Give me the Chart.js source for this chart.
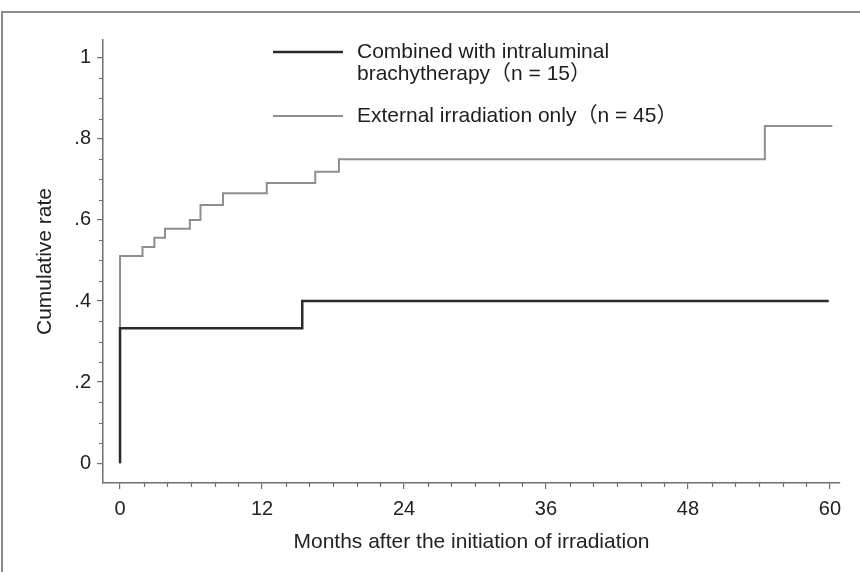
<!DOCTYPE html>
<html>
<head>
<meta charset="utf-8">
<script src="https://cdn.jsdelivr.net/npm/chart.js@4.4.1/dist/chart.umd.min.js"></script>
<style>
  html, body { margin: 0; padding: 0; background: #fff; }
  #wrap { position: relative; width: 860px; height: 572px; }
  #frame {
    position: absolute; left: 1px; top: 11px; right: 0; bottom: 0;
    border-top: 2px solid #8c8c8c; border-left: 2px solid #8c8c8c;
    pointer-events: none;
  }
</style>
</head>
<body>
<div id="wrap">
  <canvas id="chart" width="860" height="572"></canvas>
  <div id="frame"></div>
</div>
<script>
// Kaplan-Meier style cumulative rates
const combinedMonths = [0, 0, 15.4, 59.9];
const combinedRate   = [0, 0.333, 0.400, 0.400];

const externalMonths = [0, 0, 1.9, 2.9, 3.8, 5.9, 6.8, 8.7, 12.4, 16.5, 18.5, 54.5, 60.2];
const externalRate   = [0, 0.511, 0.533, 0.556, 0.578, 0.600, 0.637, 0.666, 0.691, 0.719, 0.750, 0.832, 0.832];

const seriesLabels = [
  ['Combined with intraluminal', 'brachytherapy（n = 15）'],
  ['External irradiation only（n = 45）']
];

const xTicks = [0, 12, 24, 36, 48, 60];
const xMinorTicks = [2, 4, 6, 8, 10, 14, 16, 18, 20, 22, 26, 28, 30, 32, 34, 38, 40, 42, 44, 46, 50, 52, 54, 56, 58];
const yTicks = [0, 0.2, 0.4, 0.6, 0.8, 1];
const yTickLabels = ['0', '.2', '.4', '.6', '.8', '1'];
const yMinorTicks = [0.05, 0.1, 0.15, 0.25, 0.3, 0.35, 0.45, 0.5, 0.55, 0.65, 0.7, 0.75, 0.85, 0.9, 0.95];

const FONT = '"Liberation Sans", Arial, "Noto Sans CJK JP", sans-serif';
const AXIS = '#6e6e6e';

const toPoints = (xs, ys) => xs.map((x, i) => ({ x: x, y: ys[i] }));

// minor tick marks, placed through the chart's own scales
const minorTicks = {
  id: 'minorTicks',
  afterDraw(chart) {
    const { ctx, scales: { x, y } } = chart;
    ctx.save();
    ctx.strokeStyle = AXIS;
    ctx.lineWidth = 1.2;
    ctx.beginPath();
    yMinorTicks.forEach(v => {
      const py = Math.round(y.getPixelForValue(v)) + 0.5;
      ctx.moveTo(y.right - 4, py);
      ctx.lineTo(y.right, py);
    });
    xMinorTicks.forEach(v => {
      const px = Math.round(x.getPixelForValue(v)) + 0.5;
      ctx.moveTo(px, x.top);
      ctx.lineTo(px, x.top + 4);
    });
    ctx.stroke();
    ctx.restore();
  }
};

// legend drawn inside the plot, with a two-line first entry
const insideLegend = {
  id: 'insideLegend',
  afterDatasetsDraw(chart) {
    const ctx = chart.ctx;
    const rows = [52, 116];
    ctx.save();
    ctx.font = '21px ' + FONT;
    ctx.textBaseline = 'middle';
    ctx.fillStyle = '#1e1e1e';
    chart.data.datasets.forEach((ds, i) => {
      const y0 = rows[i];
      ctx.strokeStyle = ds.borderColor;
      ctx.lineWidth = ds.borderWidth;
      ctx.beginPath();
      ctx.moveTo(273, y0);
      ctx.lineTo(343, y0);
      ctx.stroke();
      seriesLabels[i].forEach((line, j) => {
        ctx.fillText(line, 357, y0 + j * 22);
      });
    });
    ctx.restore();
  }
};

new Chart(document.getElementById('chart'), {
  type: 'line',
  data: {
    datasets: [
      {
        label: seriesLabels[0].join(' '),
        data: toPoints(combinedMonths, combinedRate),
        stepped: 'before',
        borderColor: '#2a2a2a',
        borderWidth: 2.5,
        pointRadius: 0,
        fill: false
      },
      {
        label: seriesLabels[1].join(' '),
        data: toPoints(externalMonths, externalRate),
        stepped: 'before',
        borderColor: '#8e8e8e',
        borderWidth: 2,
        pointRadius: 0,
        fill: false
      }
    ]
  },
  options: {
    responsive: false,
    animation: false,
    layout: { padding: { top: 40, right: 20, left: 0, bottom: 0 } },
    plugins: {
      legend: { display: false },
      tooltip: { enabled: false }
    },
    scales: {
      x: {
        type: 'linear',
        min: -1.44,
        max: 60.85,
        afterBuildTicks: s => { s.ticks = xTicks.map(v => ({ value: v })); },
        afterFit: s => { s.height = 89; },
        grid: { drawOnChartArea: false, tickLength: 6, color: AXIS, lineWidth: 1.2 },
        border: { color: AXIS, width: 1.5 },
        ticks: {
          padding: 8,
          color: '#222',
          font: { family: FONT, size: 20 },
          maxRotation: 0
        },
        title: {
          display: true,
          text: 'Months after the initiation of irradiation',
          color: '#222',
          font: { family: FONT, size: 21 },
          padding: { top: 0, bottom: 17 }
        }
      },
      y: {
        type: 'linear',
        min: -0.049,
        max: 1.044,
        afterBuildTicks: s => { s.ticks = yTicks.map(v => ({ value: v })); },
        afterFit: s => { s.width = 103; },
        grid: { drawOnChartArea: false, tickLength: 6, color: AXIS, lineWidth: 1.2 },
        border: { color: AXIS, width: 1.5 },
        ticks: {
          padding: 6,
          color: '#222',
          font: { family: FONT, size: 20 },
          callback: (v) => yTickLabels[yTicks.indexOf(v)]
        },
        title: {
          display: true,
          text: 'Cumulative rate',
          color: '#222',
          font: { family: FONT, size: 21 },
          padding: { top: 33, bottom: 0 }
        }
      }
    }
  },
  plugins: [minorTicks, insideLegend]
});
</script>
</body>
</html>
